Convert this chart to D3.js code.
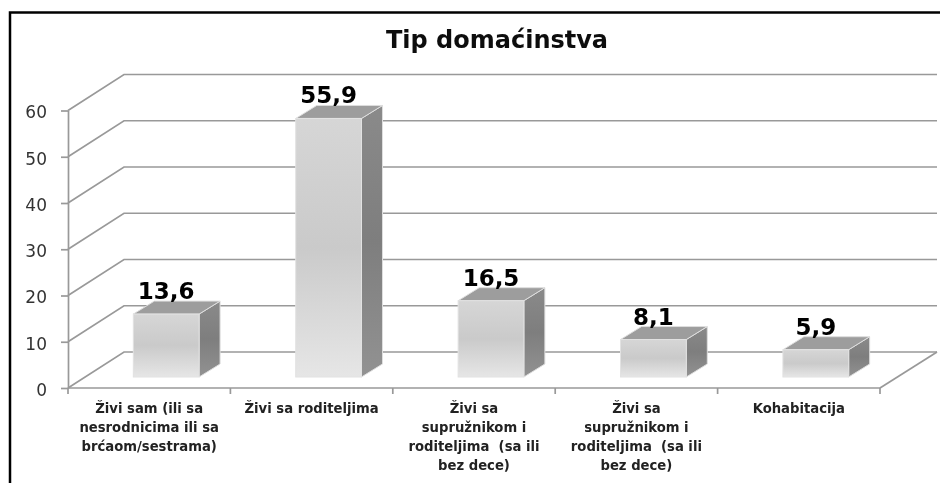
<!DOCTYPE html>
<html>
<head>
<meta charset="utf-8">
<script src="https://cdn.jsdelivr.net/npm/d3@7"></script>
<style>
  body { margin: 0; background: #fff; }
  svg { display: block; font-family: "DejaVu Sans", sans-serif; }
</style>
</head>
<body>
<svg class="chart" width="940" height="483"></svg>
<script>
let title = "Tip domaćinstva";
let categories = ["c1", "c2", "c3", "c4", "c5"];
let categoryLines = [
  ["Živi sam (ili sa", "nesrodnicima ili sa", "brćaom/sestrama)"],
  ["Živi sa roditeljima"],
  ["Živi sa", "supružnikom i", "roditeljima  (sa ili", "bez dece)"],
  ["Živi sa", "supružnikom i", "roditeljima  (sa ili", "bez dece)"],
  ["Kohabitacija"]
];
let values = [13.6, 55.9, 16.5, 8.1, 5.9];
let valueLabels = ["13,6", "55,9", "16,5", "8,1", "5,9"];
let yTicks = [0, 10, 20, 30, 40, 50, 60];

// depth of the fake 3d floor
let depthX = 56, depthY = 36;
let barShiftX = 17, barShiftY = 11, barDepthX = 21, barDepthY = 13;

let x = d3.scaleBand().domain(categories).range([68, 880]);
let y = d3.scaleLinear().domain([0, 60]).range([388, 110.5]);
let barW = x.bandwidth() * 0.405;

let svg = d3.select(".chart");

// gradients + slight blur, the source picture is a soft upscale
let defs = svg.append("defs");
function gradient(id, stops) {
  let g = defs.append("linearGradient").attr("id", id)
    .attr("x1", 0).attr("y1", 0).attr("x2", 0).attr("y2", 1);
  stops.forEach(function(s) {
    g.append("stop").attr("offset", s[0]).attr("stop-color", s[1]);
  });
}
gradient("front", [[0, "#d6d6d6"], [0.5, "#cacaca"], [1, "#e6e6e6"]]);
gradient("side", [[0, "#8a8a8a"], [0.5, "#7e7e7e"], [1, "#929292"]]);
defs.append("filter").attr("id", "soft")
  .attr("filterUnits", "userSpaceOnUse")
  .attr("x", 0).attr("y", 0).attr("width", 940).attr("height", 483)
  .append("feGaussianBlur").attr("stdDeviation", 0.45);

let root = svg.append("g").attr("filter", "url(#soft)");

// outer frame, open on the right and bottom
root.append("path")
  .attr("d", d3.line()([[10, 483], [10, 12.5], [940, 12.5]]))
  .attr("fill", "none").attr("stroke", "#000").attr("stroke-width", 2.5);

root.append("text")
  .attr("x", 497).attr("y", 48)
  .attr("text-anchor", "middle")
  .attr("font-size", 24).attr("font-weight", "bold")
  .attr("fill", "#111")
  .text(title);

// gridlines: side wall + back wall
let grid = root.append("g").attr("class", "grid")
  .attr("fill", "none").attr("stroke", "#999").attr("stroke-width", 1.7);
grid.selectAll("path").data(yTicks).join("path")
  .attr("d", function(d) {
    return d3.line()([
      [x.range()[0], y(d)],
      [x.range()[0] + depthX, y(d) - depthY],
      [x.range()[1] + depthX + 1, y(d) - depthY]
    ]);
  });
// right edge of floor
grid.append("path")
  .attr("d", d3.line()([
    [x.range()[1], y(0)],
    [x.range()[1] + depthX + 1, y(0) - depthY]
  ]));

// axes
let yAxis = d3.axisLeft(y).tickValues(yTicks).tickSize(7).tickPadding(14).tickSizeOuter(0);
let gy = root.append("g").attr("class", "y axis")
  .attr("transform", "translate(68,0)")
  .call(yAxis);
gy.selectAll("text").attr("font-size", 17).attr("fill", "#333")
  .attr("font-family", "DejaVu Sans").attr("dy", "0.44em");

let xTicks = categories.map(function(c) { return x(c); }).concat(x.range()[1]);
let gx = root.append("g").attr("class", "x axis");
gx.append("line")
  .attr("x1", x.range()[0]).attr("x2", x.range()[1])
  .attr("y1", y(0)).attr("y2", y(0));
gx.selectAll(".tick").data(xTicks).join("line")
  .attr("class", "tick")
  .attr("x1", function(d) { return d; }).attr("x2", function(d) { return d; })
  .attr("y1", y(0)).attr("y2", y(0) + 6);
root.selectAll(".axis line, .axis path")
  .attr("stroke", "#999").attr("stroke-width", 1.7);

// bars
let bars = root.append("g").attr("class", "bars")
  .selectAll("g").data(values).join("g");

function left(d, i) { return x(categories[i]) + (x.bandwidth() - barW) / 2 + barShiftX; }
let base = y(0) - barShiftY;

bars.append("path")
  .attr("d", function(d, i) {
    let x0 = left(d, i) + barW, top = y(d) - barShiftY;
    return d3.line()([[x0, top], [x0 + barDepthX, top - barDepthY], [x0 + barDepthX, base - barDepthY], [x0, base]]) + "Z";
  })
  .attr("fill", "url(#side)").attr("stroke", "#dedede").attr("stroke-width", 1);

bars.append("path")
  .attr("d", function(d, i) {
    let x0 = left(d, i), top = y(d) - barShiftY;
    return d3.line()([[x0, top], [x0 + barDepthX, top - barDepthY], [x0 + barW + barDepthX, top - barDepthY], [x0 + barW, top]]) + "Z";
  })
  .attr("fill", "#9d9d9d").attr("stroke", "#dedede").attr("stroke-width", 1);

bars.append("rect")
  .attr("x", left)
  .attr("y", function(d) { return y(d) - barShiftY; })
  .attr("width", barW)
  .attr("height", function(d) { return base - (y(d) - barShiftY); })
  .attr("fill", "url(#front)").attr("stroke", "#e2e2e2").attr("stroke-width", 1);

bars.append("text")
  .attr("x", function(d, i) { return left(d, i) + barW / 2; })
  .attr("y", function(d) { return y(d) - barShiftY - 15; })
  .attr("text-anchor", "middle")
  .attr("font-size", 23).attr("font-weight", "bold").attr("fill", "#000")
  .text(function(d, i) { return valueLabels[i]; });

// category labels
let labels = root.append("g").attr("class", "labels")
  .selectAll("text").data(categoryLines).join("text")
  .attr("text-anchor", "middle")
  .attr("font-size", 13.2).attr("font-weight", "bold").attr("fill", "#222")
  .attr("xml:space", "preserve");
labels.selectAll("tspan").data(function(d, i) {
    return d.map(function(t) { return { t: t, c: categories[i] }; });
  }).join("tspan")
  .attr("x", function(d) { return x(d.c) + x.bandwidth() / 2; })
  .attr("y", function(d, i) { return 413 + i * 19; })
  .text(function(d) { return d.t; });
</script>
</body>
</html>
